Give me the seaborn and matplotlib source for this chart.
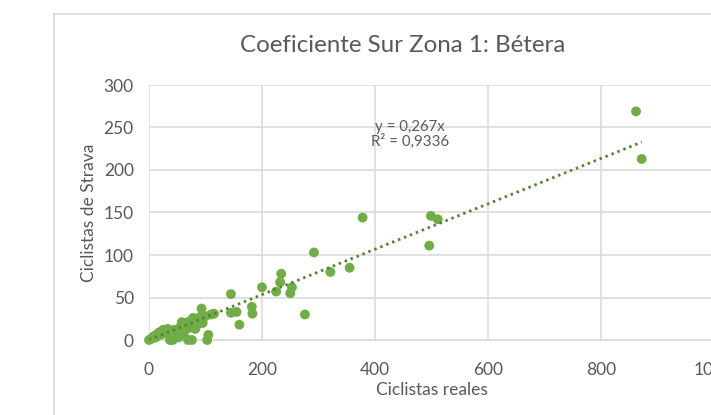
import numpy as np
import matplotlib
matplotlib.use("Agg")
import matplotlib.pyplot as plt
import seaborn as sns
import pandas as pd
from matplotlib.patches import Rectangle

# Data
ciclistas_reales = [0, 3, 5, 8, 10, 12, 15, 18, 20, 22, 25, 28, 30, 33, 35, 37, 42,
                    45, 50, 52, 55, 58, 60, 62, 65, 69, 70, 72, 76, 78, 80, 82, 85,
                    88, 90, 93, 95, 100, 103, 105, 110, 115,
                    145, 145, 155, 160, 182, 183, 200, 225, 232, 234, 250, 253,
                    276, 292, 321, 355, 378, 496, 499, 511, 862, 872]
ciclistas_strava = [0, 1, 2, 4, 5, 3, 7, 9, 6, 10, 12, 8, 11, 13, 10, 0, 0,
                    12, 8, 3, 15, 21, 17, 5, 20, 0, 14, 22, 0, 26, 20, 13, 18,
                    24, 27, 37, 20, 28, 0, 6, 30, 31,
                    54, 32, 33, 18, 39, 31, 62, 57, 68, 78, 55, 62,
                    30, 103, 80, 85, 144, 111, 146, 142, 269, 213]
pendiente = 0.267
r2 = 0.9336

df = pd.DataFrame({"reales": ciclistas_reales, "strava": ciclistas_strava})

sns.set_theme(style="white")
plt.rcParams['font.family'] = ['Lato', 'DejaVu Sans']
gris = "#595959"

fig = plt.figure(figsize=(7.11, 4.15), dpi=100)
ax = fig.add_axes([149 / 711, 75 / 415, 565 / 711, 255 / 415])

# chart border (extends past the cropped edge)
fig.patches.append(Rectangle((54 / 711, -0.1), 1.2, 1 - 14 / 415 + 0.1,
                             transform=fig.transFigure, fill=False,
                             edgecolor="#D9D9D9", linewidth=1.2))

sns.scatterplot(data=df, x="reales", y="strava", ax=ax, color="#70AD47",
                s=50, edgecolor="none", clip_on=False, zorder=3)

# linear trendline through origin
xs = np.array([0, max(ciclistas_reales)])
ax.plot(xs, pendiente * xs, color="#548235", linewidth=2.0,
        linestyle=(0, (0.9, 1.4)), zorder=4)

ax.set_xlim(0, 1000)
ax.set_ylim(0, 300)
ax.set_xticks(range(0, 1001, 200))
ax.set_yticks(range(0, 301, 50))
ax.grid(True, color="#D9D9D9", linewidth=1.1)
ax.set_axisbelow(True)
for s in ["top", "right", "left"]:
    ax.spines[s].set_visible(False)
ax.spines["bottom"].set_color("#D9D9D9")
ax.spines["bottom"].set_linewidth(1.1)
ax.tick_params(axis="both", length=0, labelsize=12.5, labelcolor=gris)
ax.tick_params(axis="x", pad=16)
ax.tick_params(axis="y", pad=11)

ax.set_xlabel("Ciclistas reales", fontsize=12.5, color=gris, labelpad=3)
ax.set_ylabel("Ciclistas de Strava", fontsize=12.5, color=gris, labelpad=5)

ax.text(462, 251, f"y = {pendiente:.3f}x".replace(".", ","), ha="center",
        va="center", fontsize=10.8, color=gris)
ax.text(462, 233.5, f"R² = {r2:.4f}".replace(".", ","), ha="center",
        va="center", fontsize=10.8, color=gris)

fig.text(403 / 711, 1 - 46 / 415, "Coeficiente Sur Zona 1: Bétera",
         ha="center", va="center", fontsize=17.4, color=gris)

fig.savefig("out.png", dpi=100)
